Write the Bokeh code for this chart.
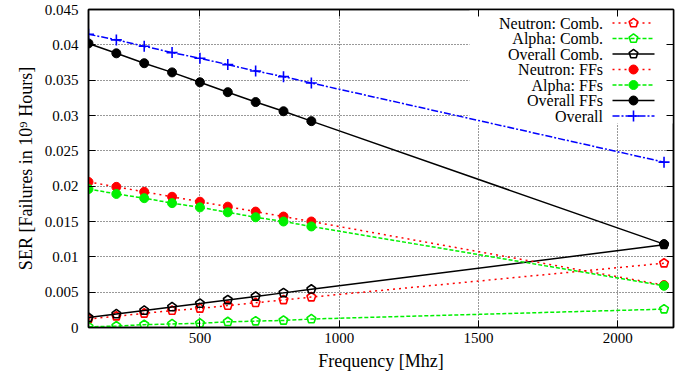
import math
from bokeh.plotting import figure
from bokeh.models import Range1d, FixedTicker, LinearAxis, BoxAnnotation
from bokeh.core.properties import value
from bokeh.embed import file_html
from bokeh.resources import INLINE

# ---------------- data ----------------
freq = [100, 200, 300, 400, 500, 600, 700, 800, 900, 2166]
neutron_comb = [0.0012, 0.0016, 0.0020, 0.0024, 0.0027, 0.0031, 0.0035, 0.0039, 0.0043, 0.0091]
alpha_comb = [0.0001, 0.0002, 0.0004, 0.0005, 0.0006, 0.0008, 0.0009, 0.0010, 0.0012, 0.0026]
overall_comb = [0.0014, 0.0019, 0.0024, 0.0029, 0.0034, 0.0039, 0.0044, 0.0049, 0.0054, 0.0117]
neutron_ffs = [0.0206, 0.0199, 0.0192, 0.0185, 0.0178, 0.0171, 0.0164, 0.0157, 0.0150, 0.0060]
alpha_ffs = [0.0196, 0.0189, 0.0183, 0.0176, 0.0170, 0.0163, 0.0156, 0.0150, 0.0143, 0.0059]
overall_ffs = [0.0402, 0.0388, 0.0374, 0.0361, 0.0347, 0.0333, 0.0319, 0.0306, 0.0292, 0.0118]
overall = [0.0415, 0.0407, 0.0398, 0.0389, 0.0381, 0.0372, 0.0363, 0.0355, 0.0346, 0.0234]

series_names = ["Neutron: Comb.", "Alpha: Comb.", "Overall Comb.",
                "Neutron: FFs", "Alpha: FFs", "Overall FFs", "Overall"]
series_values = [neutron_comb, alpha_comb, overall_comb,
                 neutron_ffs, alpha_ffs, overall_ffs, overall]

x_ticks = [500, 1000, 1500, 2000]
y_ticks = [0, 0.005, 0.01, 0.015, 0.02, 0.025, 0.03, 0.035, 0.04, 0.045]
y_tick_labels = ["0", "0.005", "0.01", "0.015", "0.02", "0.025", "0.03", "0.035", "0.04", "0.045"]

X0, X1 = 100, 2200
Y0, Y1 = 0, 0.045

# ---------------- styles ----------------
SERIF = "Liberation Serif"
RED, GREEN, BLACK, BLUE = "#ff0000", "#00f000", "#000000", "#0000ff"
styles = [
    (RED, "2 4", "pent"),
    (GREEN, "4 2", "pent"),
    (BLACK, "solid", "pent"),
    (RED, "2 4", "dot"),
    (GREEN, "4 2", "dot"),
    (BLACK, "solid", "dot"),
    (BLUE, "7 2 2 2", "plus"),
]

FW, FH = 585, 318
BL, BR, BT, BB = 88, 15, 9, 56

p = figure(x_range=Range1d(X0, X1), y_range=Range1d(Y0, Y1),
           frame_width=FW, frame_height=FH,
           min_border_left=BL, min_border_right=BR, min_border_top=BT, min_border_bottom=BB,
           output_backend="svg", toolbar_location=None,
           x_axis_label="Frequency [Mhz]", y_axis_label="SER [Failures in 10⁹ Hours]")
p.outline_line_color = "black"
p.outline_line_width = 1.5
p.outline_line_alpha = 1.0

top_axis = LinearAxis()
right_axis = LinearAxis()
p.add_layout(top_axis, "above")
p.add_layout(right_axis, "right")

p.xaxis.ticker = FixedTicker(ticks=x_ticks)
p.yaxis.ticker = FixedTicker(ticks=y_ticks)
p.xgrid.ticker = FixedTicker(ticks=x_ticks)
p.ygrid.ticker = FixedTicker(ticks=y_ticks)

for ax in list(p.xaxis) + list(p.yaxis):
    ax.axis_line_color = "black"
    ax.axis_line_width = 1.5
    ax.major_tick_in = 7
    ax.major_tick_out = 0
    ax.major_tick_line_color = "black"
    ax.major_tick_line_width = 1
    ax.minor_tick_line_color = None
    ax.major_label_text_font = SERIF
    ax.major_label_text_font_size = "15px"
    ax.major_label_text_color = "black"
    ax.axis_label_text_font = SERIF
    ax.axis_label_text_font_size = "18px"
    ax.axis_label_text_font_style = "normal"
    ax.axis_label_text_color = "black"

for ax in (top_axis, right_axis):
    ax.major_label_text_font_size = "0px"
    ax.major_label_standoff = 0
    ax.major_label_text_color = None

p.yaxis[0].major_label_overrides = {t: s for t, s in zip(y_ticks, y_tick_labels)}
p.xaxis[0].major_label_standoff = 8
p.xaxis[0].axis_label_standoff = 5
p.yaxis[0].major_label_standoff = 10
p.yaxis[0].axis_label_standoff = 6

for g in (p.xgrid, p.ygrid):
    g.grid_line_color = "black"
    g.grid_line_dash = "1 2"
    g.grid_line_width = 1
    g.grid_line_alpha = 0.8

# page-pixel -> data helpers (for key placement and marker shapes only)
FL, FT = BL, BT
SX = (X1 - X0) / FW   # data units per pixel, x
SY = (Y1 - Y0) / FH   # data units per pixel, y


def dx(px):
    return X0 + (px - FL) * SX


def dy(py):
    return Y1 - (py - FT) * SY


# opaque key background (covers grid only)
key_box = BoxAnnotation(left=dx(469), right=X1, top=Y1, bottom=dy(123),
                        fill_color="white", fill_alpha=1.0, line_color=None,
                        level="underlay")
p.add_layout(key_box)

R_PENT = 4.6
pent_angles = [math.pi / 2 + 2 * math.pi * k / 5 for k in range(5)]


def draw_marker(xs, ys, color, kind):
    if kind == "pent":
        pxs = [[x + R_PENT * math.cos(a) * SX for a in pent_angles] for x in xs]
        pys = [[y + R_PENT * math.sin(a) * SY for a in pent_angles] for y in ys]
        p.patches(pxs, pys, fill_color=None, line_color=color, line_width=1.6)
    elif kind == "dot":
        p.scatter(xs, ys, marker="circle", size=9, fill_color=color, line_color=color)
    else:
        p.scatter(xs, ys, marker="cross", size=11, line_color=color, line_width=1.6)


for vals, (color, dash, kind) in zip(series_values, styles):
    p.line(freq, vals, line_color=color, line_width=1.5, line_dash=dash)
    draw_marker(freq, vals, color, kind)

# key
row_y = [22.5 + 15.5 * i for i in range(len(series_names))]
p.text(x=[dx(602.5)] * len(series_names), y=[dy(r) for r in row_y], text=series_names,
       text_align="right", text_baseline="middle",
       text_font=value(SERIF), text_font_size="16px", text_color="black")
for r, (color, dash, kind) in zip(row_y, styles):
    p.line([dx(612), dx(654)], [dy(r), dy(r)], line_color=color, line_width=1.5, line_dash=dash)
    draw_marker([dx(633)], [dy(r)], color, kind)

open("out.html", "w").write(file_html(p, INLINE))
